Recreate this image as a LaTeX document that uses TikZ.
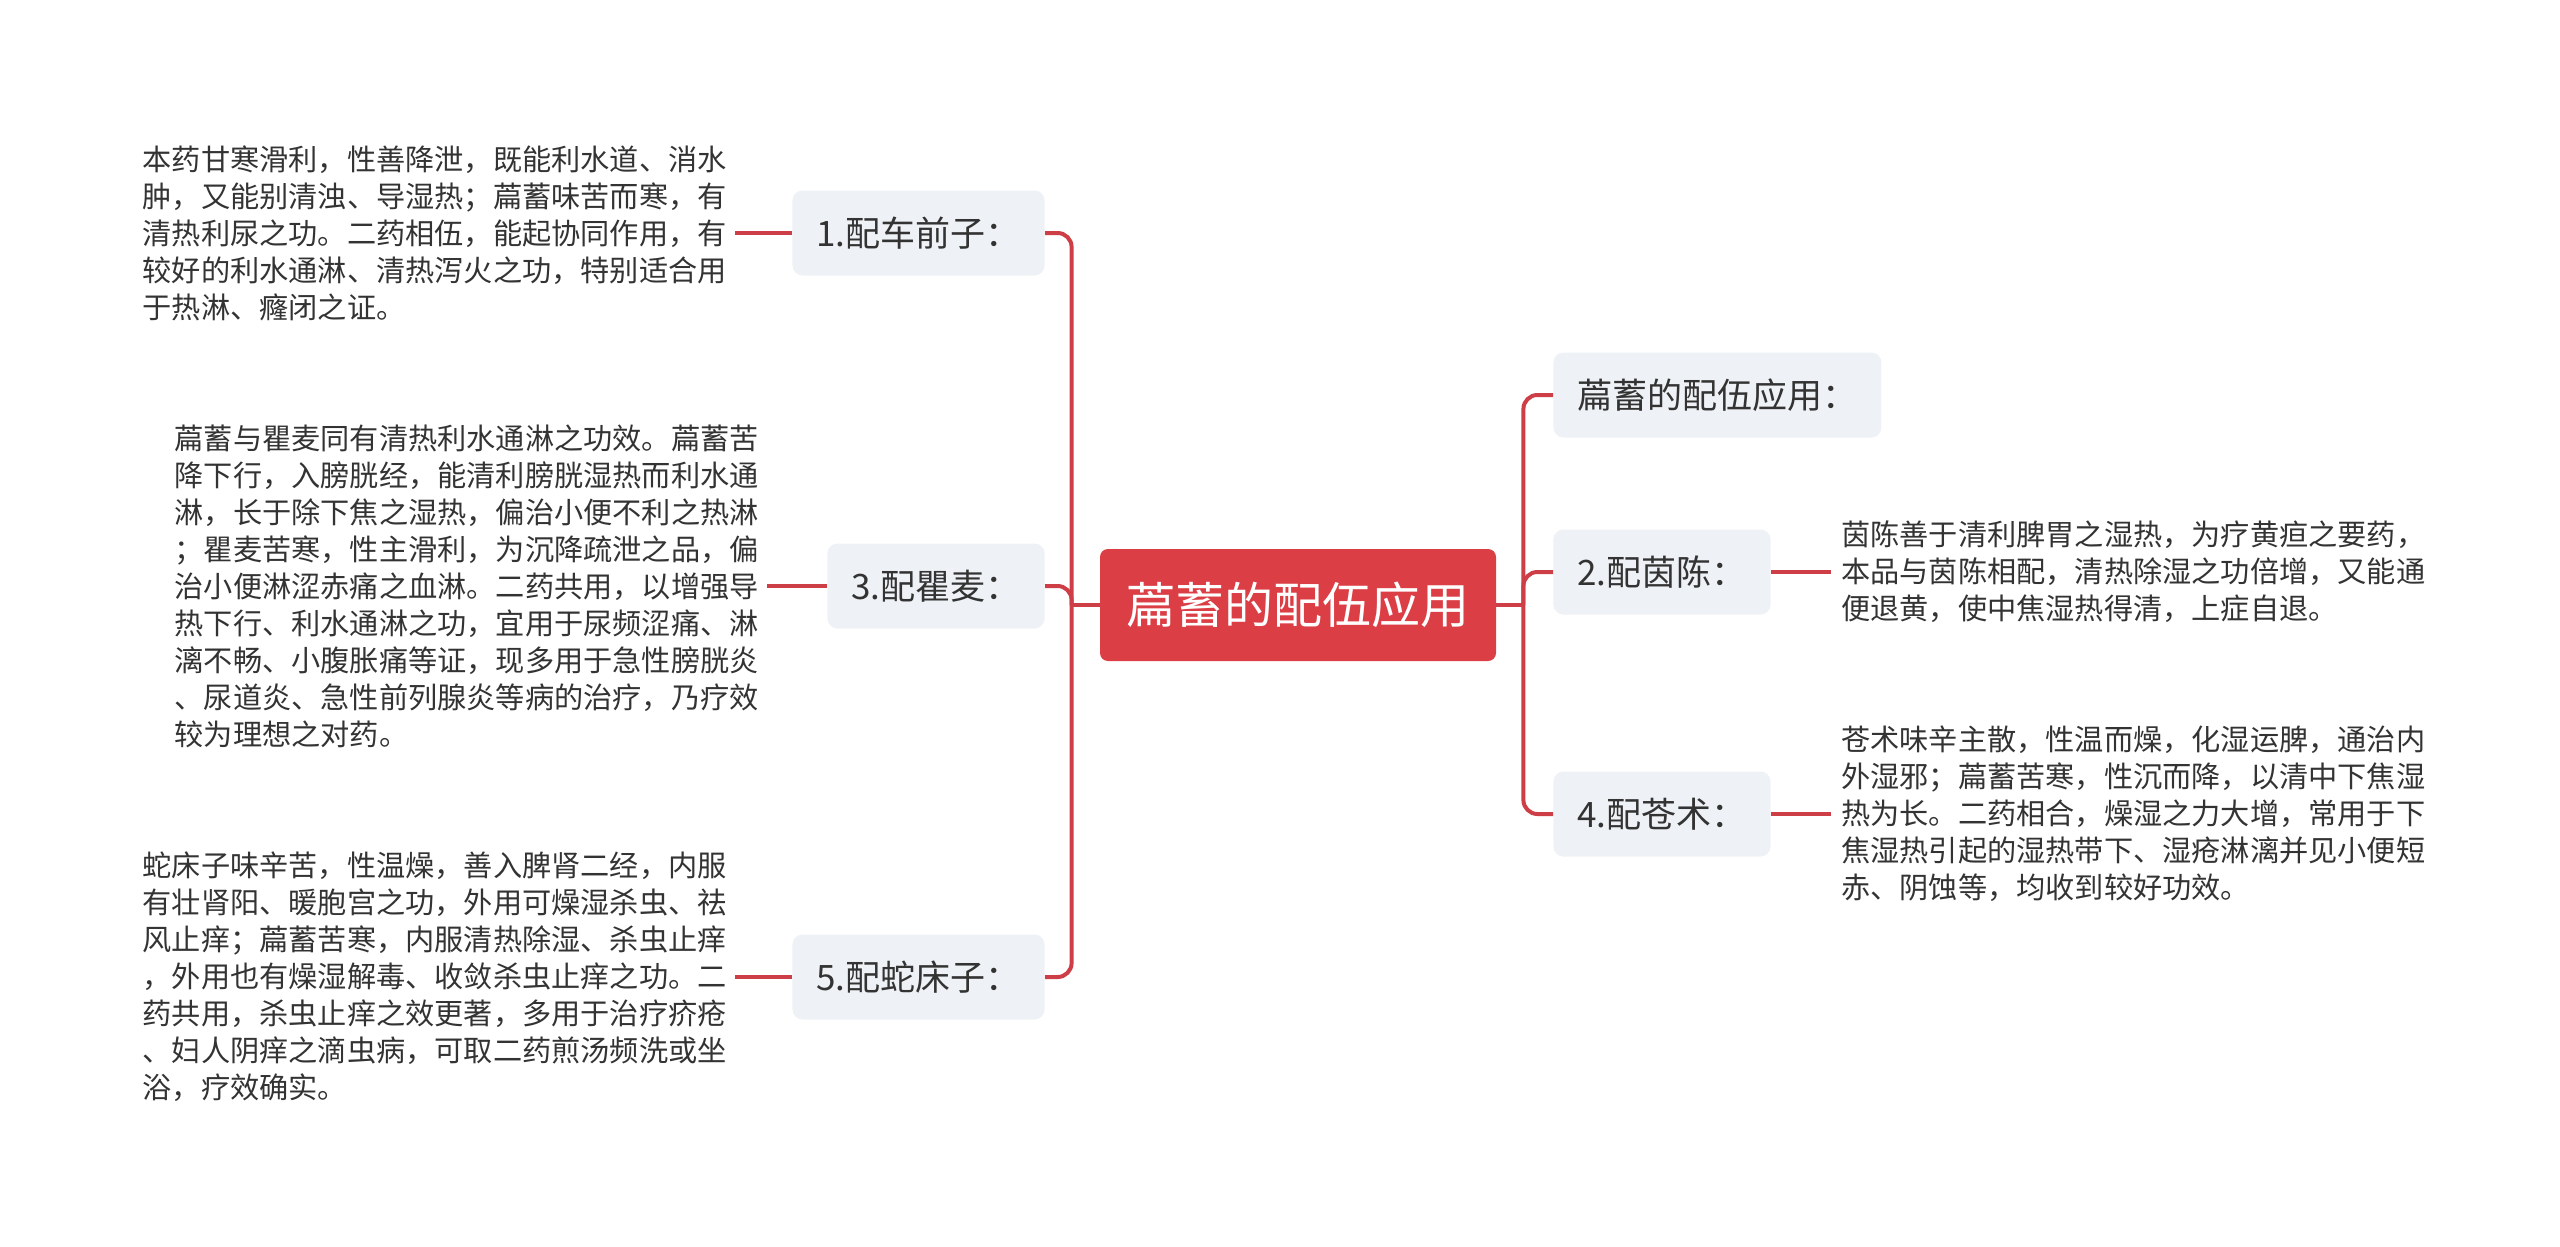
\documentclass[tikz,border=0pt]{standalone}
\usepackage{fontspec}
\setmainfont{Noto Sans CJK SC}
\usepackage{xcolor}
\definecolor{mapred}{RGB}{220,62,70}
\definecolor{linered}{RGB}{206,62,70}
\definecolor{topicgray}{RGB}{238,241,245}
\definecolor{textgray}{RGB}{51,51,51}
\usepackage{tikz}
\usetikzlibrary{positioning}

\begin{document}
\begin{tikzpicture}[x=0.5pt, y=-0.5pt,
    root/.style={rectangle, rounded corners=4pt, fill=mapred, text=white,
      minimum width=198pt, minimum height=56pt, font=\fontsize{24.5pt}{30pt}\selectfont},
    topic/.style={rectangle, rounded corners=5pt, fill=topicgray, text=textgray,
      inner xsep=12pt, minimum height=42.5pt, font=\fontsize{17.5pt}{21pt}\selectfont},
    note/.style={inner sep=0pt, align=left, text=textgray,
      font=\fontsize{14.6pt}{18.5pt}\selectfont},
    link/.style={draw=linered, line width=2pt, rounded corners=7pt}
]
\useasboundingbox (0,0) rectangle (2560,1247);

\node[root] (root) at (1298,605) {萹蓄的配伍应用};
\coordinate (ljoint) at ([xshift=-14pt]root.west);
\coordinate (rjoint) at ([xshift=13.5pt]root.east);

% left side
\node[topic, anchor=east] (chegian) at (1045,233) {1.配车前子：};
\node[topic, anchor=east] (qumai) at (1045,586) {3.配瞿麦：};
\node[topic, anchor=east] (shechuang) at (1045,977) {5.配蛇床子：};

\node[note, left=32.5pt of chegian] (chegiantxt) {本药甘寒滑利，性善降泄，既能利水道、消水\\
肿，又能别清浊、导湿热；萹蓄味苦而寒，有\\
清热利尿之功。二药相伍，能起协同作用，有\\
较好的利水通淋、清热泻火之功，特别适合用\\
于热淋、癃闭之证。};
\node[note, left=34pt of qumai] (qumaitxt) {萹蓄与瞿麦同有清热利水通淋之功效。萹蓄苦\\
降下行，入膀胱经，能清利膀胱湿热而利水通\\
淋，长于除下焦之湿热，偏治小便不利之热淋\\
；瞿麦苦寒，性主滑利，为沉降疏泄之品，偏\\
治小便淋涩赤痛之血淋。二药共用，以增强导\\
热下行、利水通淋之功，宜用于尿频涩痛、淋\\
漓不畅、小腹胀痛等证，现多用于急性膀胱炎\\
、尿道炎、急性前列腺炎等病的治疗，乃疗效\\
较为理想之对药。};
\node[note, left=32.5pt of shechuang] (shechuangtxt) {蛇床子味辛苦，性温燥，善入脾肾二经，内服\\
有壮肾阳、暖胞宫之功，外用可燥湿杀虫、祛\\
风止痒；萹蓄苦寒，内服清热除湿、杀虫止痒\\
，外用也有燥湿解毒、收敛杀虫止痒之功。二\\
药共用，杀虫止痒之效更著，多用于治疗疥疮\\
、妇人阴痒之滴虫病，可取二药煎汤频洗或坐\\
浴，疗效确实。};

% right side
\node[topic, anchor=west] (peiwu) at (1553,395) {萹蓄的配伍应用：};
\node[topic, anchor=west] (yinchen) at (1553,572) {2.配茵陈：};
\node[topic, anchor=west] (cangzhu) at (1553,814) {4.配苍术：};

\node[note, right=35pt of yinchen] (yinchentxt) {茵陈善于清利脾胃之湿热，为疗黄疸之要药，\\
本品与茵陈相配，清热除湿之功倍增，又能通\\
便退黄，使中焦湿热得清，上症自退。};
\node[note, right=35pt of cangzhu] (cangzhutxt) {苍术味辛主散，性温而燥，化湿运脾，通治内\\
外湿邪；萹蓄苦寒，性沉而降，以清中下焦湿\\
热为长。二药相合，燥湿之力大增，常用于下\\
焦湿热引起的湿热带下、湿疮淋漓并见小便短\\
赤、阴蚀等，均收到较好功效。};

% connectors
\draw[link] (root.west) -- (ljoint);
\draw[link] (root.east) -- (rjoint);
\foreach \n in {chegian, qumai, shechuang}
  \draw[link] (ljoint) |- (\n.east);
\foreach \n in {peiwu, yinchen, cangzhu}
  \draw[link] (rjoint) |- (\n.west);

\draw[link, shorten <=4pt] (chegiantxt.east) -- (chegian.west);
\draw[link, shorten <=4pt] (qumaitxt.east) -- (qumai.west);
\draw[link, shorten <=4pt] (shechuangtxt.east) -- (shechuang.west);
\draw[link, shorten >=5pt] (yinchen.east) -- (yinchentxt.west);
\draw[link, shorten >=5pt] (cangzhu.east) -- (cangzhutxt.west);
\end{tikzpicture}
\end{document}
